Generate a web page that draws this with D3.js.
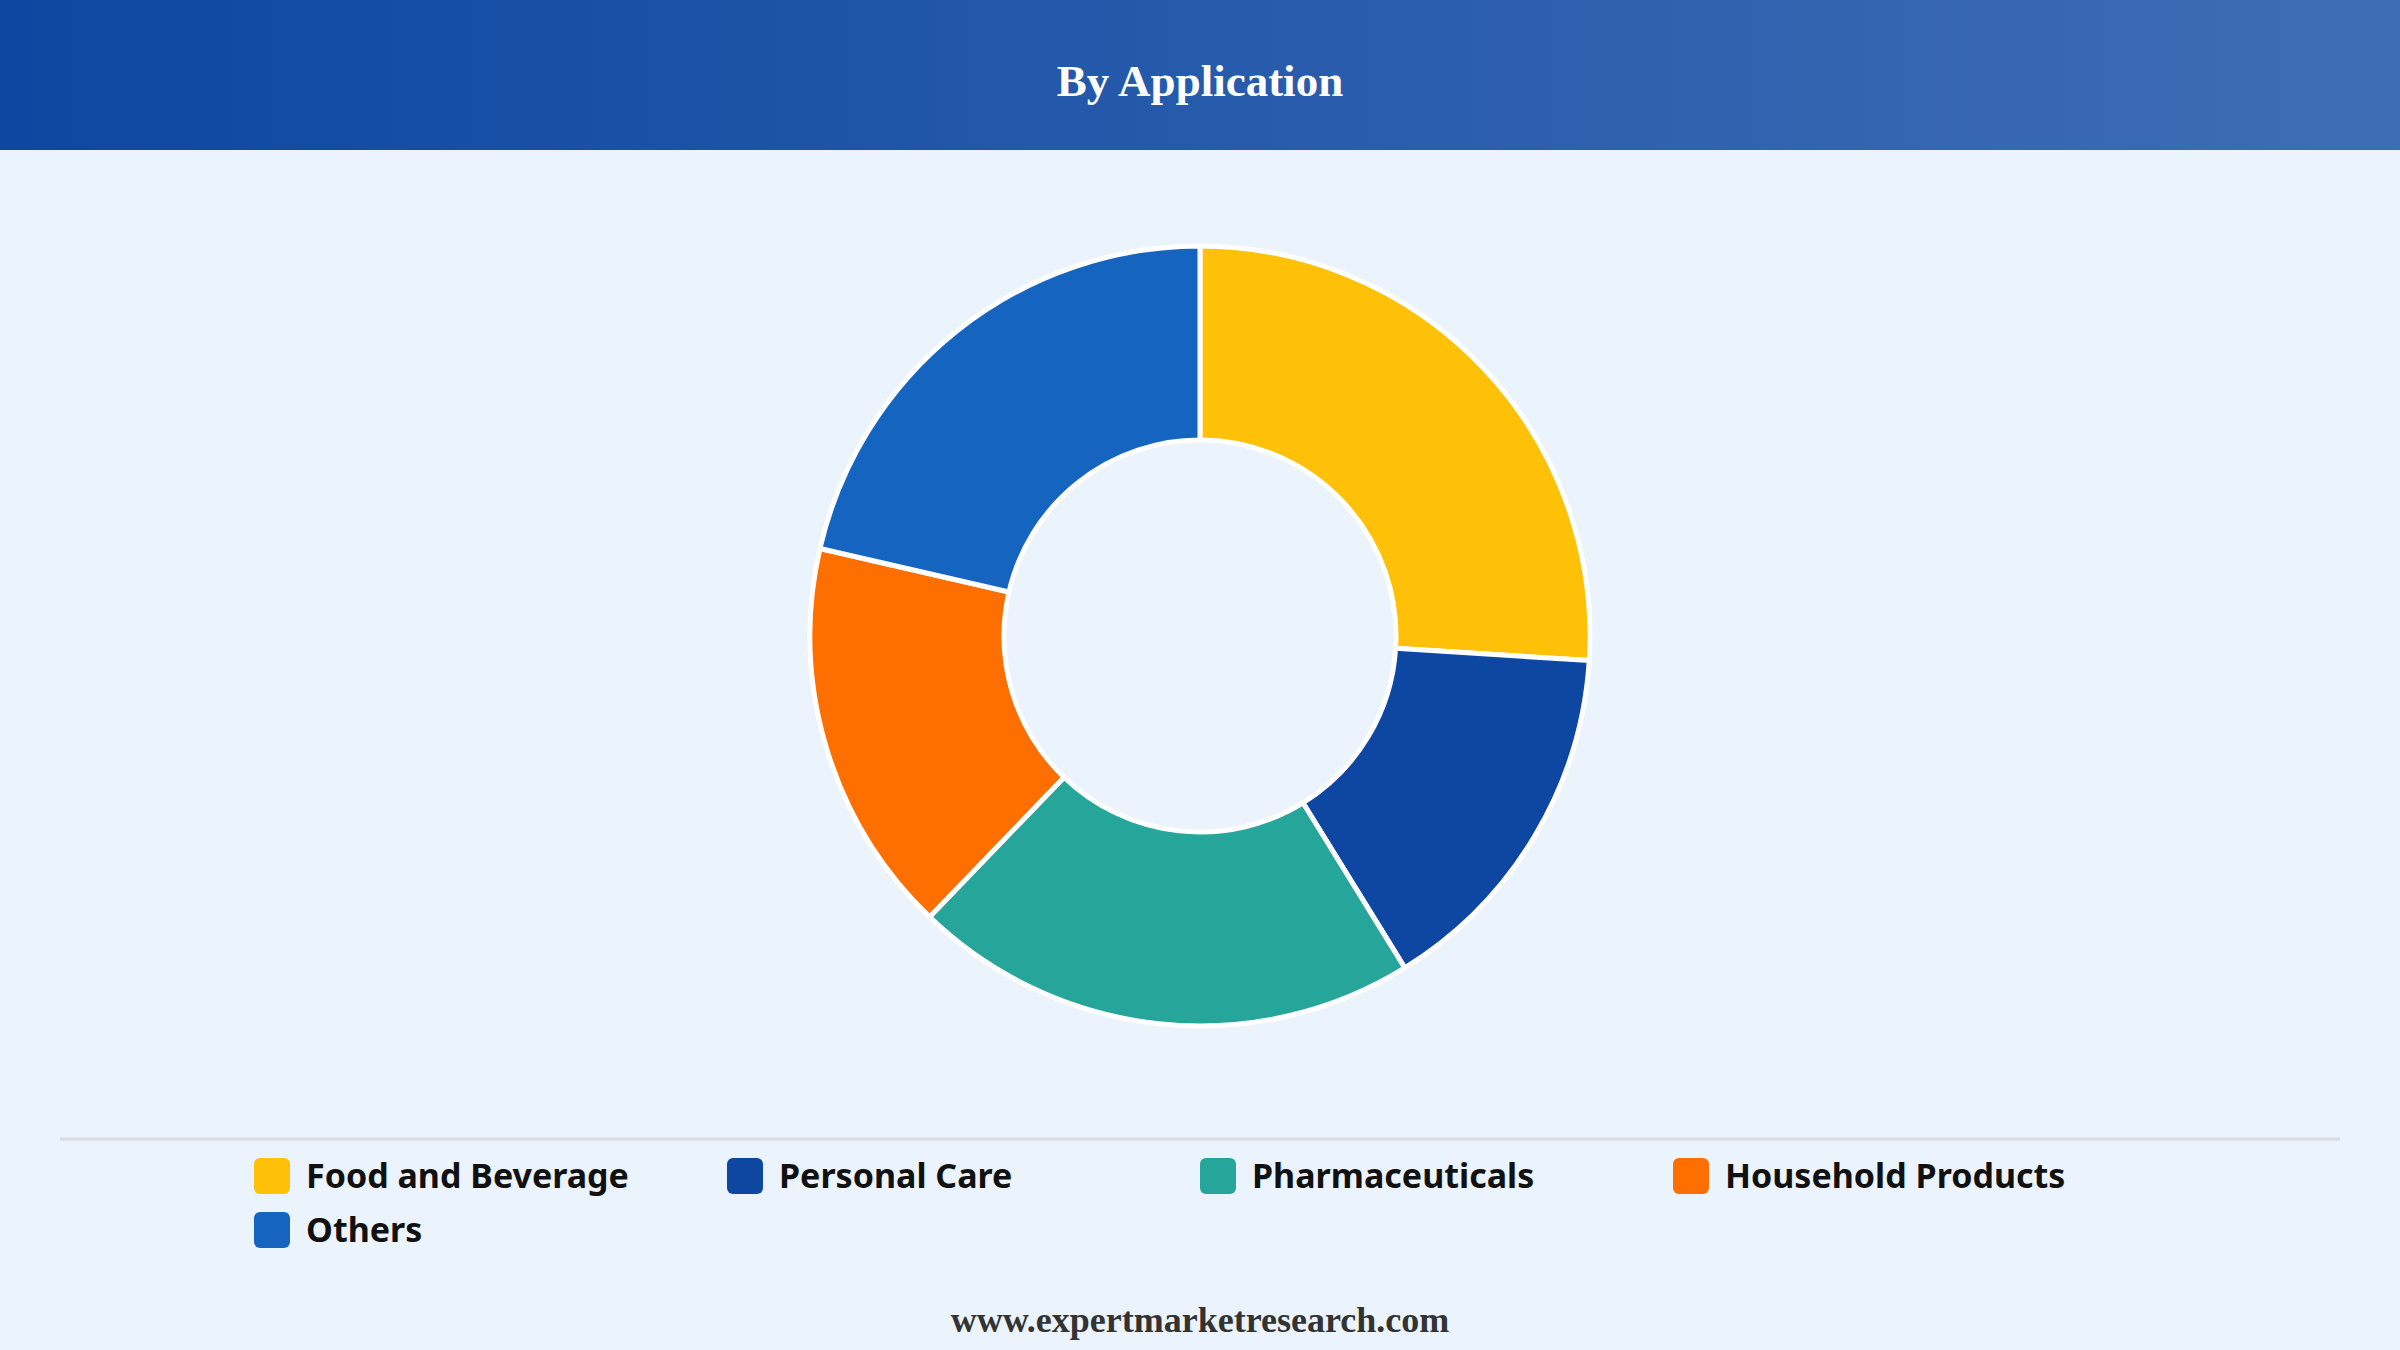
<!DOCTYPE html>
<html>
<head>
<meta charset="utf-8">
<script src="https://cdn.jsdelivr.net/npm/d3@7"></script>
<style>
  html, body { margin: 0; padding: 0; background: #ebf3fc; }
  svg { display: block; }
  .legend-label { font-family: "Noto Sans", "Open Sans", sans-serif; font-weight: 700; fill: #111; }
</style>
</head>
<body>
<svg id="chart"></svg>
<script>
// Data
const categories = ['Food and Beverage', 'Personal Care', 'Pharmaceuticals', 'Household Products', 'Others'];
const shares = [26.0, 15.2, 21.0, 16.4, 21.4];
const colors = ['#ffc107', '#0d47a1', '#26a69a', '#ff6f00', '#1565c0'];
const titleText = 'By Application';
const footerText = 'www.expertmarketresearch.com';

const width = 2400, height = 1350;
const headerHeight = 150;
const center = {x: 1200, y: 636};
const outerRadius = 390, innerRadius = 196;

const svg = d3.select('#chart')
    .attr('width', width)
    .attr('height', height);

// Background
svg.append('rect')
    .attr('width', width)
    .attr('height', height)
    .attr('fill', '#ebf3fc');

// Header with horizontal gradient
const defs = svg.append('defs');
const grad = defs.append('linearGradient')
    .attr('id', 'headerGrad')
    .attr('x1', '0%').attr('x2', '100%')
    .attr('y1', '0%').attr('y2', '0%');
grad.append('stop').attr('offset', '0%').attr('stop-color', '#0d47a1');
grad.append('stop').attr('offset', '100%').attr('stop-color', '#3f6db5');

svg.append('rect')
    .attr('width', width)
    .attr('height', headerHeight)
    .attr('fill', 'url(#headerGrad)');

svg.append('text')
    .attr('x', width / 2)
    .attr('y', 96)
    .attr('text-anchor', 'middle')
    .attr('font-family', '"Liberation Serif", "Times New Roman", serif')
    .attr('font-weight', 700)
    .attr('font-size', 45)
    .attr('fill', '#fff')
    .text(titleText);

// Donut
const pie = d3.pie()
    .sort(null)
    .value(d => d);

const arc = d3.arc()
    .innerRadius(innerRadius)
    .outerRadius(outerRadius);

const donut = svg.append('g')
    .attr('transform', `translate(${center.x},${center.y})`);

donut.selectAll('path')
    .data(pie(shares))
    .join('path')
    .attr('d', arc)
    .attr('fill', (d, i) => colors[i])
    .attr('stroke', '#fff')
    .attr('stroke-width', 5)
    .attr('stroke-linejoin', 'round');

// Separator
svg.append('line')
    .attr('x1', 60).attr('x2', 2340)
    .attr('y1', 1139).attr('y2', 1139)
    .attr('stroke', '#d9dde3')
    .attr('stroke-width', 3);

// Legend
const legendLeft = 254, colWidth = 473, rowHeight = 54, firstRowY = 1176, swatch = 36;

const item = svg.append('g').selectAll('g')
    .data(categories)
    .join('g')
    .attr('transform', (d, i) => `translate(${legendLeft + (i % 4) * colWidth},${firstRowY + Math.floor(i / 4) * rowHeight})`);

item.append('rect')
    .attr('x', 0)
    .attr('y', -swatch / 2)
    .attr('width', swatch)
    .attr('height', swatch)
    .attr('rx', 6)
    .attr('fill', (d, i) => colors[i]);

item.append('text')
    .attr('class', 'legend-label')
    .attr('x', swatch + 16)
    .attr('y', 0)
    .attr('dy', '0.35em')
    .attr('font-size', 34)
    .text(d => d);

// Footer
svg.append('text')
    .attr('x', width / 2)
    .attr('y', 1332)
    .attr('text-anchor', 'middle')
    .attr('font-family', '"Liberation Serif", "Times New Roman", serif')
    .attr('font-weight', 700)
    .attr('font-size', 36)
    .attr('fill', '#333')
    .text(footerText);
</script>
</body>
</html>
